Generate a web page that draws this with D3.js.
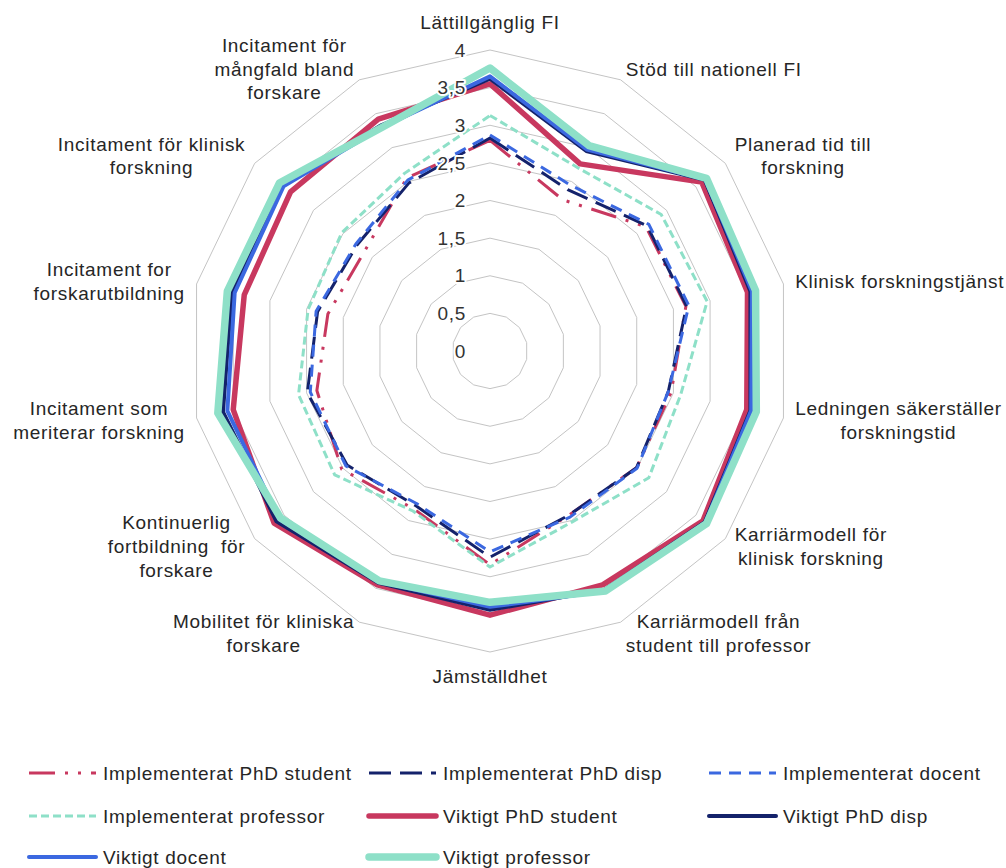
<!DOCTYPE html>
<html><head><meta charset="utf-8">
<script src="https://cdn.jsdelivr.net/npm/d3@7/dist/d3.min.js"></script>
<style>
body{margin:0;background:#fff}
svg{display:block}
text{font-family:"Liberation Sans",Arial,sans-serif;fill:#262626;letter-spacing:0.7px}
</style>
</head><body>
<svg id="chart" width="1006" height="868"></svg>
<script>
// ---------- DATA ----------
const categories = [
  "Lättillgänglig FI",
  "Stöd till nationell FI",
  "Planerad tid till\nforskning",
  "Klinisk forskningstjänst",
  "Ledningen säkerställer\nforskningstid",
  "Karriärmodell för\nklinisk forskning",
  "Karriärmodell från\nstudent till professor",
  "Jämställdhet",
  "Mobilitet för kliniska\nforskare",
  "Kontinuerlig\nfortbildning  för\nforskare",
  "Incitament som\nmeriterar forskning",
  "Incitament for\nforskarutbildning",
  "Incitament för klinisk\nforskning",
  "Incitament för\nmångfald bland\nforskare"
];
const tickValues = [0, 0.5, 1, 1.5, 2, 2.5, 3, 3.5, 4];
const tickLabels = ["0", "0,5", "1", "1,5", "2", "2,5", "3", "3,5", "4"];
const seriesNames = [
  "Implementerat PhD student", "Implementerat PhD disp", "Implementerat docent",
  "Implementerat professor", "Viktigt PhD student", "Viktigt PhD disp",
  "Viktigt docent", "Viktigt professor"
];
const implPhdStudent = [2.80, 2.23, 2.65, 2.67, 2.47, 2.49, 2.42, 2.84, 2.33, 2.52, 2.36, 2.21, 2.13, 2.55];
const implPhdDisp    = [2.83, 2.38, 2.67, 2.68, 2.43, 2.49, 2.42, 2.74, 2.28, 2.43, 2.49, 2.35, 2.26, 2.48];
const implDocent     = [2.87, 2.45, 2.70, 2.71, 2.43, 2.50, 2.45, 2.67, 2.25, 2.45, 2.45, 2.37, 2.28, 2.52];
const implProfessor  = [3.13, 2.70, 2.91, 2.96, 2.60, 2.70, 2.52, 2.87, 2.36, 2.64, 2.61, 2.48, 2.52, 2.62];
const vikPhdStudent  = [3.55, 2.76, 3.60, 3.51, 3.50, 3.62, 3.45, 3.51, 3.45, 3.67, 3.50, 3.35, 3.39, 3.42];
const vikPhdDisp     = [3.62, 2.95, 3.65, 3.55, 3.55, 3.65, 3.52, 3.44, 3.42, 3.63, 3.64, 3.52, 3.52, 3.33];
const vikDocent      = [3.65, 2.97, 3.66, 3.57, 3.56, 3.66, 3.54, 3.40, 3.40, 3.58, 3.58, 3.48, 3.51, 3.30];
const vikProfessor   = [3.76, 3.03, 3.68, 3.62, 3.63, 3.68, 3.54, 3.34, 3.39, 3.56, 3.71, 3.58, 3.58, 3.30];

const seriesValues = [implPhdStudent, implPhdDisp, implDocent, implProfessor,
                      vikPhdStudent, vikPhdDisp, vikDocent, vikProfessor];

// ---------- STYLES ----------
const RED = "#c8385f", NAVY = "#14226b", BLUE = "#3b68e0", TEAL = "#8ee0c8";
const seriesStyles = [
  {color: RED,  width: 3,   dash: "26,10,3,10,3,10"},
  {color: NAVY, width: 3,   dash: "22,9"},
  {color: BLUE, width: 3,   dash: "12,8"},
  {color: TEAL, width: 3,   dash: "8,4"},
  {color: RED,  width: 5.5, dash: null},
  {color: NAVY, width: 4,   dash: null},
  {color: BLUE, width: 4,   dash: null},
  {color: TEAL, width: 7.5, dash: null}
];

// ---------- LAYOUT ----------
const cx = 490, cy = 351, R = 301;
const fontSize = "19px";
const svg = d3.select("#chart");
const n = categories.length;
const r = d3.scaleLinear().domain([0, 4]).range([0, R]);
const ang = d3.scaleLinear().domain([0, n]).range([0, 2 * Math.PI]);

const g = svg.append("g").attr("transform", `translate(${cx},${cy})`);

const radial = d3.lineRadial()
  .angle((d, i) => ang(i))
  .radius(d => r(d))
  .curve(d3.curveLinearClosed);

// grid rings
g.append("g").selectAll("path")
  .data(tickValues.filter(v => v > 0))
  .join("path")
  .attr("d", v => radial(categories.map(() => v)))
  .attr("fill", "none")
  .attr("stroke", "#c4c4c4")
  .attr("stroke-width", 1);

// series
g.append("g").selectAll("path")
  .data(seriesValues)
  .join("path")
  .attr("d", d => radial(d))
  .attr("fill", "none")
  .attr("stroke", (d, i) => seriesStyles[i].color)
  .attr("stroke-width", (d, i) => seriesStyles[i].width)
  .attr("stroke-dasharray", (d, i) => seriesStyles[i].dash)
  .attr("stroke-linejoin", "round")
  .attr("stroke-linecap", (d, i) => seriesStyles[i].dash ? "butt" : "round");

// tick labels
g.append("g").selectAll("text")
  .data(tickValues)
  .join("text")
  .attr("x", -24)
  .attr("y", v => -r(v))
  .attr("dy", "0.35em")
  .attr("text-anchor", "end")
  .style("font-size", fontSize)
  .style("paint-order", "stroke")
  .style("stroke", "#fff")
  .style("stroke-width", "4px")
  .style("stroke-linejoin", "round")
  .style("fill", "#333")
  .text((v, i) => tickLabels[i]);

// category labels
const lh = 23.7, pad = 12;
const labG = g.append("g");
categories.forEach((cat, i) => {
  const a = ang(i), s = Math.sin(a), c = Math.cos(a);
  const px = (R + pad) * s, py = -(R + pad) * c;
  const lines = cat.split("\n");
  const t = labG.append("text").style("font-size", fontSize).style("white-space", "pre");
  const spans = lines.map(l => t.append("tspan").attr("x", 0).text(l));
  const widths = spans.map(sp => sp.node().getComputedTextLength());
  const bw = d3.max(widths);
  const bh = lines.length * lh;
  let bx, by;
  if (Math.abs(s) < 0.01) {
    bx = px;
    by = c > 0 ? py - bh / 2 - 4 : py + bh / 2;
  } else {
    bx = s > 0 ? px + bw / 2 : px - bw / 2;
    by = py;
  }
  t.attr("text-anchor", "middle");
  spans.forEach((sp, k) => {
    sp.attr("x", bx).attr("y", by + (k - (lines.length - 1) / 2) * lh).attr("dy", "0.35em");
  });
});

// legend
const legCols = [29, 369, 709], legRows = [773, 816, 857], legLen = 67;
const leg = svg.append("g");
seriesNames.forEach((name, i) => {
  const col = i % 3, row = Math.floor(i / 3);
  const x = legCols[col], y = legRows[row];
  const st = seriesStyles[i];
  leg.append("line")
    .attr("x1", x).attr("x2", x + legLen)
    .attr("y1", y).attr("y2", y)
    .attr("stroke", st.color)
    .attr("stroke-width", st.width)
    .attr("stroke-dasharray", st.dash)
    .attr("stroke-linecap", st.dash ? "butt" : "round");
  leg.append("text")
    .attr("x", x + legLen + 7)
    .attr("y", y)
    .attr("dy", "0.35em")
    .style("font-size", fontSize)
    .text(name);
});
</script>
</body></html>
